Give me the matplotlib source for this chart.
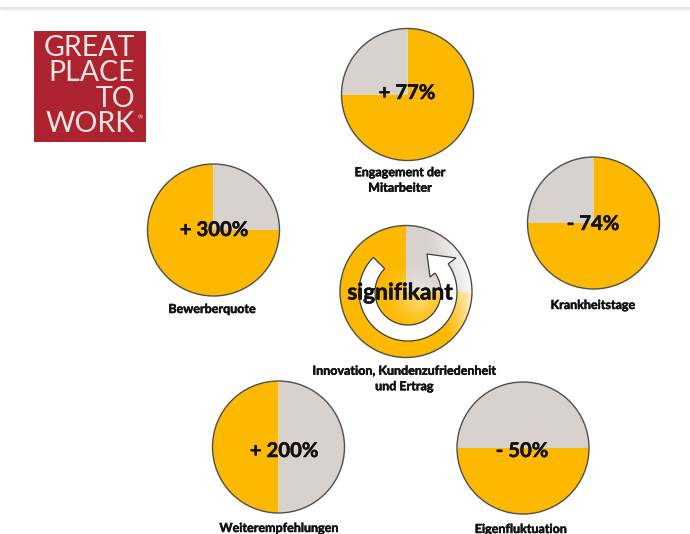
import numpy as np
import matplotlib
matplotlib.use("Agg")
import matplotlib.pyplot as plt
import matplotlib.patheffects as pe
from matplotlib.patches import Circle, Polygon, Rectangle

plt.rcParams['font.family'] = ['Lato', 'DejaVu Sans']

# Kennzahlen
LABELS = ["Engagement der\nMitarbeiter", "Bewerberquote", "Krankheitstage",
          "Weiterempfehlungen", "Eigenfluktuation"]
VALUE_TEXTS = ["+ 77%", "+ 300%", "- 74%", "+ 200%", "- 50%"]
GOLD_SHARE = [75, 75, 75, 50, 50]
CENTER_LABEL = "Innovation, Kundenzufriedenheit\nund Ertrag"
CENTER_TEXT = "signifikant"
CENTER_GOLD_SHARE = 75
LOGO_LINES = ["GREAT", "PLACE", "TO", "WORK"]

# Layout in Pixeln (y von oben)
W, H = 690, 534
PIE_XY = [(407.5, 94.5), (213.5, 230), (593.5, 223), (278.5, 447), (523, 448)]
PIE_R = 66
PIE_START = [90, 0, 90, 270, 0]
VALUE_XY = [(407, 93), (214, 230), (593, 224), (284, 451), (522, 451)]
LABEL_XY = [(400, 180), (212, 309), (593, 305), (279, 528), (521, 529)]
CENTER_XY = (406, 291.5)
LOGO_Y = [48, 73, 99, 124]

GOLD = '#fdb900'
GRAY = '#d8d2ce'
EDGE = '#4f4f4f'
INK = '#111111'
THICK = [pe.withStroke(linewidth=0.35, foreground=INK)]


def flip(y):
    return H - y


def draw_pie(ax, xy, gold, start, r=PIE_R):
    ax.pie([gold, 100 - gold], colors=[GOLD, GRAY], startangle=start, counterclock=False,
           center=(xy[0], flip(xy[1])), radius=r, frame=True,
           wedgeprops=dict(edgecolor='none', linewidth=0))
    ax.add_patch(Circle((xy[0], flip(xy[1])), r, fill=False, ec=EDGE, lw=1.0, zorder=3))


def ring_arrow(cx, cy, r_in=33, r_out=49):
    # Pfeil gegen den Uhrzeigersinn, von oben links ueber unten bis nach rechts oben
    t = np.radians(np.linspace(135, 395, 120))
    outer = np.c_[cx + r_out * np.cos(t), cy + r_out * np.sin(t)]
    inner = np.c_[cx + r_in * np.cos(t), cy + r_in * np.sin(t)]
    head = np.array([(456, flip(258)), (427, flip(254)), (430, flip(277))])
    return np.vstack([outer, head, inner[::-1]])


fig = plt.figure(figsize=(W / 100, H / 100), dpi=100)
ax = fig.add_axes([0, 0, 1, 1])

for xy, gold, start in zip(PIE_XY, GOLD_SHARE, PIE_START):
    draw_pie(ax, xy, gold, start)

# Mittlerer Kreis mit hellem Verlauf nach rechts
cx, cy = CENTER_XY[0], flip(CENTER_XY[1])
draw_pie(ax, CENTER_XY, CENTER_GOLD_SHARE, 0, r=66)

xx, yy = np.meshgrid(np.linspace(cx - 66, cx + 66, 200), np.linspace(cy - 66, cy + 66, 200))
dx, dy = (xx - cx) / 66, (yy - cy) / 66
alpha = np.clip((dx * 0.95 + dy * 0.2 - 0.45) / 0.55, 0, 1) ** 1.2 * 0.95
glow = np.exp(-((dx - 0.2) ** 2 + (dy + 0.08) ** 2) / 0.1) * 0.42
alpha = np.maximum(alpha, glow)
rgba = np.ones((200, 200, 4))
rgba[..., 3] = alpha
im = ax.imshow(rgba, extent=(cx - 66, cx + 66, cy - 66, cy + 66), origin='lower', zorder=2, aspect='auto')
im.set_clip_path(Circle((cx, cy), 66, transform=ax.transData))

ax.add_patch(Polygon(ring_arrow(408, flip(292)), closed=True, fc='white', ec='#3c3c3c',
                     lw=0.9, joinstyle='miter', zorder=4))

for xy, s in zip(VALUE_XY, VALUE_TEXTS):
    ax.text(xy[0], flip(xy[1]), s, ha='center', va='center', fontsize=14.6,
            fontweight='bold', color=INK, zorder=5, path_effects=THICK)
ax.text(400, flip(293), CENTER_TEXT, ha='center', va='center', fontsize=16.4,
        fontweight='bold', color=INK, zorder=5, path_effects=THICK)

for xy, s in zip(LABEL_XY, LABELS):
    ax.text(xy[0], flip(xy[1]), s, ha='center', va='center', fontsize=9.0,
            fontweight='bold', color=INK, linespacing=1.35, path_effects=THICK)
ax.text(404.5, flip(378.5), CENTER_LABEL, ha='center', va='center', fontsize=9.0,
        fontweight='bold', color=INK, linespacing=1.35, path_effects=THICK)

# Logo
ax.add_patch(Rectangle((34, flip(142)), 112, 111, fc='#ad2430', ec='none'))
for y, s in zip(LOGO_Y, LOGO_LINES):
    ax.text(135, flip(y), s, ha='right', va='center', fontsize=20.5, color='#f5e6e3')
ax.text(143, flip(118), "\u00ae", ha='right', va='center', fontsize=4.5, color='#f5e6e3')

# Linie am oberen Rand
ax.plot([0, W], [flip(8), flip(8)], color='#e9e9e9', lw=2.2, solid_capstyle='butt')

ax.set_xlim(0, W)
ax.set_ylim(0, H)
ax.set_aspect('auto')
ax.axis('off')

fig.savefig('out.png', dpi=100, facecolor='white')
